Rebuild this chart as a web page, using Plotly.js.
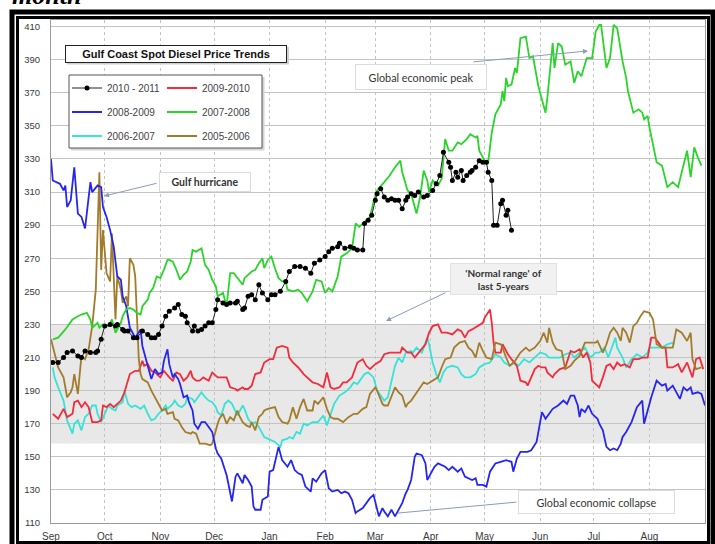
<!DOCTYPE html>
<html>
<head>
<meta charset="utf-8">
<script src="https://cdn.plot.ly/plotly-3.0.1.min.js"></script>
<style>html,body{margin:0;padding:0;background:#fff;}#chart{width:715px;height:544px;}</style>
</head>
<body>
<div id="chart"></div>
<script>
// x = days since Sep 1 (season year), y = price (cents/gal)
const months = ['Sep','Oct','Nov','Dec','Jan','Feb','Mar','Apr','May','Jun','Jul','Aug'];
const monthStartDays = [0,30,61,91,122,153,181,212,242,273,303,334];
const normalRange = [158, 230];

const s2010_2011 = [[1,207],[4,207],[7,210],[9,213],[12,214],[15,211],[17,210],[19,214],[22,213],[25,213],[26,214],[28,221],[30,229],[33,230],[36,229],[37,230],[40,227],[41,226],[43,226],[46,222],[48,222],[51,226],[54,224],[56,222],[58,222],[60,224],[62,229],[64,235],[66,238],[69,240],[71,242],[73,236],[75,235],[76,231],[79,226],[80,229],[82,226],[84,227],[86,229],[88,231],[90,231],[92,239],[93,245],[96,243],[98,242],[100,243],[103,243],[104,244],[107,239],[108,240],[110,247],[112,248],[114,245],[116,254],[118,249],[121,245],[123,248],[125,248],[128,250],[131,256],[133,262],[136,265],[139,265],[142,264],[145,261],[147,267],[150,269],[153,271],[155,274],[157,276],[160,277],[161,279],[164,276],[167,277],[169,276],[171,275],[174,275],[175,291],[177,293],[179,296],[181,305],[182,309],[184,312],[186,307],[188,305],[190,306],[192,305],[194,305],[196,300],[198,305],[199,307],[201,309],[203,308],[205,310],[208,307],[210,308],[213,311],[215,315],[217,320],[219,334],[222,328],[223,325],[224,317],[226,322],[227,319],[229,323],[230,317],[232,320],[234,322],[235,323],[237,325],[239,329],[241,328],[243,328],[244,322],[246,317],[247,290],[249,290],[251,303],[252,305],[254,296],[255,299],[257,287]];

const s2009_2010 = [[1,176],[4,173],[7,179],[9,174],[12,176],[13,183],[15,184],[17,180],[19,183],[21,180],[23,171],[26,171],[28,172],[29,181],[31,180],[33,182],[35,180],[37,182],[39,184],[41,189],[44,200],[47,202],[49,202],[51,208],[52,205],[54,206],[56,202],[58,201],[61,198],[63,202],[65,199],[66,198],[68,196],[70,201],[72,200],[74,196],[76,198],[78,202],[79,198],[81,196],[83,196],[85,198],[88,196],[90,201],[93,198],[96,198],[98,198],[100,192],[103,191],[104,190],[107,192],[108,191],[110,191],[112,193],[114,200],[117,201],[119,207],[122,209],[124,209],[126,216],[129,217],[132,216],[133,210],[135,207],[138,204],[141,200],[143,198],[146,195],[149,194],[152,192],[154,201],[156,192],[158,191],[161,192],[163,195],[165,195],[168,198],[171,207],[174,209],[176,205],[178,203],[181,206],[184,208],[186,212],[189,213],[192,213],[195,213],[196,216],[199,213],[201,213],[203,210],[206,214],[209,218],[211,225],[213,229],[216,230],[218,225],[221,225],[224,224],[227,227],[229,226],[231,222],[233,226],[235,227],[238,229],[241,231],[242,234],[245,239],[246,231],[247,219],[248,213],[251,213],[252,218],[253,216],[255,212],[257,209],[260,205],[262,196],[265,195],[266,193],[268,198],[270,203],[272,205],[274,204],[276,204],[277,201],[280,198],[281,200],[284,203],[287,204],[290,214],[292,213],[295,215],[297,210],[299,213],[301,207],[302,196],[305,193],[306,192],[308,198],[310,205],[312,206],[314,203],[316,207],[318,205],[320,206],[323,204],[325,209],[328,209],[330,210],[333,210],[335,222],[337,222],[339,219],[341,216],[343,216],[344,204],[347,204],[350,206],[352,201],[355,207],[357,201],[358,198],[360,209],[362,210],[364,203]];

const s2008_2009 = [[0,330],[1,317],[5,315],[7,311],[8,314],[9,301],[11,305],[13,325],[15,297],[17,295],[19,288],[22,316],[23,310],[25,313],[26,314],[28,313],[29,301],[31,295],[33,287],[35,277],[37,259],[39,257],[40,247],[42,241],[44,228],[47,222],[50,227],[51,217],[54,205],[56,197],[58,203],[60,200],[62,201],[63,208],[65,215],[66,206],[68,198],[69,200],[71,197],[72,194],[74,186],[76,187],[77,183],[79,178],[80,170],[82,167],[84,171],[86,171],[88,168],[90,165],[92,155],[93,152],[95,149],[97,142],[98,139],[101,123],[103,138],[104,140],[107,134],[108,139],[110,136],[112,132],[113,120],[114,118],[117,118],[118,124],[121,126],[122,141],[124,142],[127,156],[129,148],[132,144],[134,148],[136,142],[138,140],[140,139],[142,132],[145,129],[146,137],[148,135],[151,140],[153,142],[155,131],[157,129],[160,130],[162,128],[164,129],[166,128],[168,124],[170,116],[171,117],[174,119],[178,125],[180,127],[182,118],[183,114],[185,119],[186,117],[188,114],[190,118],[192,114],[194,118],[196,122],[198,128],[199,130],[201,136],[203,150],[204,152],[207,151],[209,146],[210,136],[211,138],[214,144],[216,146],[218,145],[220,144],[222,142],[224,144],[227,141],[229,143],[231,138],[233,137],[235,136],[237,137],[238,133],[241,133],[243,132],[245,141],[248,146],[251,147],[254,148],[257,147],[258,141],[260,149],[262,153],[266,153],[268,154],[271,159],[273,170],[274,177],[276,173],[278,176],[280,179],[283,181],[286,184],[288,182],[290,187],[292,187],[294,181],[295,174],[296,179],[298,177],[300,181],[302,176],[305,173],[306,170],[308,166],[310,156],[312,154],[314,155],[316,154],[318,158],[319,162],[321,165],[324,171],[327,180],[330,184],[331,170],[333,178],[335,186],[338,196],[341,193],[343,194],[344,190],[347,193],[349,189],[351,185],[353,192],[355,190],[357,192],[358,188],[361,189],[363,188],[365,181]];

const s2007_2008 = [[1,221],[4,222],[8,227],[12,233],[15,235],[17,236],[20,237],[22,233],[23,228],[26,231],[27,228],[29,230],[32,229],[34,233],[36,225],[39,231],[40,235],[42,239],[44,240],[46,239],[48,237],[50,236],[51,241],[54,245],[55,249],[57,252],[59,259],[61,258],[63,263],[65,269],[66,269],[68,268],[70,263],[72,257],[74,260],[76,262],[78,268],[79,275],[81,274],[84,276],[86,266],[88,263],[90,257],[92,253],[93,247],[96,249],[98,241],[100,261],[102,261],[104,258],[107,254],[108,258],[110,260],[112,262],[114,263],[116,267],[118,270],[119,264],[121,269],[123,271],[125,264],[127,258],[129,256],[131,256],[132,251],[135,250],[138,251],[140,249],[143,244],[146,250],[148,257],[151,256],[153,249],[155,252],[157,250],[160,259],[162,271],[165,273],[168,276],[170,291],[172,289],[175,292],[178,295],[180,304],[182,311],[186,316],[189,320],[192,325],[195,329],[196,322],[199,311],[201,309],[203,301],[204,297],[206,307],[208,323],[210,317],[211,310],[213,317],[216,314],[218,318],[220,342],[222,335],[224,335],[227,340],[229,339],[232,342],[234,345],[237,343],[238,344],[239,335],[242,329],[244,328],[246,346],[248,357],[251,363],[252,371],[253,365],[254,379],[255,374],[257,375],[259,385],[260,382],[262,403],[265,404],[267,391],[269,392],[272,374],[276,358],[277,367],[280,400],[281,385],[283,400],[285,398],[287,387],[290,389],[292,376],[294,383],[296,380],[299,391],[302,391],[304,407],[306,411],[307,411],[310,385],[312,391],[314,411],[316,409],[319,389],[321,379],[322,371],[325,358],[328,360],[330,358],[331,354],[333,356],[334,349],[336,339],[338,328],[341,326],[343,316],[344,313],[347,316],[348,315],[350,313],[352,322],[355,335],[357,319],[359,337],[361,331],[363,326]];

const s2006_2007 = [[1,204],[2,198],[4,192],[7,184],[9,172],[12,164],[13,170],[15,172],[17,166],[19,174],[21,176],[23,181],[25,181],[26,176],[28,171],[30,176],[32,181],[34,179],[36,178],[37,181],[40,183],[41,190],[43,182],[45,180],[47,181],[50,179],[52,181],[54,176],[56,172],[58,173],[60,176],[62,178],[64,181],[65,179],[68,182],[69,184],[71,181],[73,180],[75,182],[76,186],[79,185],[80,183],[82,186],[84,189],[86,186],[88,184],[90,183],[92,180],[93,177],[95,175],[97,182],[99,184],[101,182],[103,177],[104,175],[107,181],[108,179],[110,173],[112,170],[114,171],[116,168],[118,164],[119,162],[121,161],[125,159],[128,156],[129,160],[132,161],[133,162],[135,161],[137,165],[139,164],[141,170],[143,169],[146,171],[149,171],[152,175],[154,169],[156,175],[158,182],[161,187],[164,189],[167,192],[169,195],[171,194],[174,198],[175,200],[177,201],[180,198],[182,190],[185,186],[186,184],[188,186],[190,196],[192,205],[194,210],[196,207],[198,213],[201,214],[202,213],[204,216],[207,213],[209,219],[210,222],[211,218],[213,207],[215,200],[217,195],[219,201],[221,204],[224,205],[227,204],[229,200],[231,198],[234,198],[237,200],[239,204],[242,206],[245,207],[248,212],[251,210],[253,207],[256,205],[259,207],[261,205],[264,209],[267,207],[270,210],[273,213],[276,212],[278,210],[281,210],[284,210],[287,212],[290,213],[292,210],[295,213],[298,216],[301,210],[304,213],[306,213],[309,216],[311,210],[313,216],[315,222],[316,216],[319,210],[321,204],[324,209],[327,212],[330,210],[333,213],[334,216],[336,216],[338,216],[341,216],[344,218],[347,219],[348,218]];

const s2005_2006 = [[0,221],[4,204],[7,198],[9,186],[11,189],[12,192],[13,200],[15,188],[17,211],[19,209],[21,215],[23,229],[25,251],[27,322],[28,263],[29,287],[31,261],[33,256],[34,285],[36,233],[37,259],[39,251],[40,243],[42,247],[43,241],[44,270],[46,266],[47,259],[49,209],[50,200],[51,197],[54,195],[56,190],[58,186],[60,182],[62,178],[64,179],[65,176],[68,177],[69,173],[71,172],[73,168],[75,165],[78,164],[79,165],[81,164],[83,158],[86,158],[89,157],[90,158],[93,170],[94,173],[96,176],[98,170],[100,174],[102,172],[104,178],[105,175],[107,171],[109,169],[111,168],[112,171],[114,166],[116,174],[118,176],[119,178],[121,179],[125,180],[127,174],[129,171],[132,170],[133,172],[135,180],[137,173],[139,180],[141,185],[143,178],[146,178],[147,184],[149,182],[152,186],[154,179],[156,174],[158,173],[160,173],[163,171],[166,174],[169,176],[171,176],[174,179],[176,180],[178,188],[181,192],[182,190],[185,182],[186,181],[188,181],[190,187],[192,192],[194,189],[196,187],[198,180],[199,182],[201,184],[203,187],[205,190],[208,195],[210,194],[213,196],[216,198],[218,204],[220,209],[223,210],[225,216],[228,219],[231,220],[233,216],[235,214],[237,210],[239,219],[241,214],[243,210],[246,209],[248,219],[251,218],[252,216],[254,210],[256,205],[259,208],[262,213],[265,216],[267,214],[270,216],[273,220],[275,225],[277,219],[278,228],[280,219],[282,215],[285,214],[287,203],[290,205],[292,208],[295,211],[298,219],[301,219],[304,219],[305,220],[308,213],[310,218],[312,225],[314,228],[316,225],[318,220],[319,228],[321,225],[323,219],[325,229],[327,231],[329,235],[331,238],[334,237],[336,233],[338,218],[341,216],[344,216],[347,216],[349,227],[352,225],[355,220],[357,225],[358,209],[360,203],[363,204]];

const xs = a => a.map(p => p[0]);
const ys = a => a.map(p => p[1]);

const LW = 1.8;
const data = [
  {type:'scatter', mode:'lines', name:'2006-2007', x:xs(s2006_2007), y:ys(s2006_2007), line:{color:'#35e4d6', width:LW}, legend:'legend', legendgroup:'g3', legendrank:3},
  {type:'scatter', mode:'lines', name:'2009-2010', x:xs(s2009_2010), y:ys(s2009_2010), line:{color:'#f52a3a', width:LW}, legend:'legend2', legendgroup:'g4', legendrank:4},
  {type:'scatter', mode:'lines', name:'2005-2006', x:xs(s2005_2006), y:ys(s2005_2006), line:{color:'#a27c2a', width:LW}, legend:'legend2', legendgroup:'g6', legendrank:6},
  {type:'scatter', mode:'lines', name:'2008-2009', x:xs(s2008_2009), y:ys(s2008_2009), line:{color:'#2626f0', width:LW}, legend:'legend', legendgroup:'g2', legendrank:2},
  {type:'scatter', mode:'lines', name:'2007-2008', x:xs(s2007_2008), y:ys(s2007_2008), line:{color:'#2bd42b', width:LW}, legend:'legend2', legendgroup:'g5', legendrank:5},
  {type:'scatter', mode:'lines+markers', name:'2010 - 2011', x:xs(s2010_2011), y:ys(s2010_2011), line:{color:'#222', width:1}, marker:{color:'#000', size:5, symbol:'circle'}, legend:'legend', legendgroup:'g1', legendrank:1}
];

const L = 51, R = 705, T = 20, B = 523;
const px = v => (v - L) / (R - L);
const py = v => (B - v) / (B - T);

const tickFont = {family:'Liberation Sans, Arial, sans-serif', size:10, color:'#3a3a3a'};
const noteFont = {family:'Lato, Open Sans, sans-serif', size:10.8, color:'#333'};
const arrowColor = '#8a9bbb';

const legendCommon = {xanchor:'left', yanchor:'top', bgcolor:'rgba(0,0,0,0)', borderwidth:0,
  font:{family:'Liberation Sans, Arial, sans-serif', size:10, color:'#444'}, traceorder:'grouped', tracegroupgap:5};

const layout = {
  width:715, height:544,
  margin:{l:L, r:715-R, t:T, b:544-B, pad:0},
  paper_bgcolor:'#fff', plot_bgcolor:'#fff',
  showlegend:true,
  legend:Object.assign({x:px(67), y:py(73.5)}, legendCommon),
  legend2:Object.assign({x:px(162), y:py(73.5)}, legendCommon),
  xaxis:{range:[0,365], tickmode:'array', tickvals:monthStartDays, ticktext:months,
    showgrid:true, gridcolor:'#c4c4c4', griddash:'dot', gridwidth:1,
    showline:true, linecolor:'#9a9a9a', mirror:true, zeroline:false,
    ticks:'outside', ticklen:4, tickcolor:'rgba(0,0,0,0)', tickfont:tickFont, fixedrange:true},
  yaxis:{range:[110,414], tick0:110, dtick:20,
    showgrid:true, gridcolor:'#c4c4c4', gridwidth:1,
    showline:true, linecolor:'#9a9a9a', mirror:true, zeroline:false,
    ticks:'outside', ticklen:8, tickcolor:'rgba(0,0,0,0)', tickfont:Object.assign({}, tickFont, {size:9.5}), fixedrange:true},
  shapes:[
    {type:'rect', xref:'paper', yref:'y', x0:0, x1:1, y0:normalRange[0], y1:normalRange[1], fillcolor:'rgba(150,150,150,0.22)', line:{width:0}, layer:'below'},
    {type:'rect', xref:'paper', yref:'paper', x0:px(71), x1:px(264.5), y0:py(150.5), y1:py(77), fillcolor:'#d4d4d4', line:{width:0}, layer:'above'},
    {type:'rect', xref:'paper', yref:'paper', x0:px(69), x1:px(262), y0:py(148), y1:py(75), fillcolor:'#fff', line:{color:'#555', width:1}, layer:'above'},
    {type:'rect', xref:'paper', yref:'paper', x0:px(67), x1:px(289), y0:py(64.5), y1:py(47), fillcolor:'#cfcfcf', line:{width:0}, layer:'above'},
    {type:'rect', xref:'paper', yref:'paper', x0:px(12), x1:px(713), y0:py(548), y1:py(12), line:{color:'#000', width:5}, fillcolor:'rgba(0,0,0,0)', layer:'above'},
    {type:'rect', xref:'paper', yref:'paper', x0:px(17.5), x1:px(708.5), y0:py(542.5), y1:py(17.5), line:{color:'#000', width:3}, fillcolor:'rgba(0,0,0,0)', layer:'above'}
  ],
  annotations:[
    {xref:'paper', yref:'paper', x:px(10), y:py(12), xanchor:'left', yanchor:'bottom', showarrow:false,
      text:'month', font:{family:'Liberation Serif, Times New Roman, serif', size:26, color:'#000', style:'italic', weight:'bold'}},
    {xref:'paper', yref:'paper', x:px(175.5), y:py(53.5), xanchor:'center', yanchor:'middle', showarrow:false,
      text:'<b>Gulf Coast Spot Diesel Price Trends</b>', font:{family:'Liberation Sans, Arial, sans-serif', size:11, color:'#111'},
      bgcolor:'#fff', bordercolor:'#222', borderwidth:1, borderpad:0, width:220, height:16},
    {xref:'paper', yref:'paper', x:px(421), y:py(77), xanchor:'center', yanchor:'middle', showarrow:false,
      text:'Global economic peak', font:noteFont, bgcolor:'#fff', bordercolor:'#dcdcdc', borderwidth:1, borderpad:0, width:130, height:24},
    {xref:'paper', yref:'paper', x:px(204.5), y:py(182.5), xanchor:'center', yanchor:'middle', showarrow:false,
      text:'<b>Gulf hurricane</b>', font:Object.assign({}, noteFont, {size:10.5}), bgcolor:'#fff', bordercolor:'#dcdcdc', borderwidth:1, borderpad:0, width:90, height:18},
    {xref:'paper', yref:'paper', x:px(503.5), y:py(279), xanchor:'center', yanchor:'middle', showarrow:false,
      text:"<b>'Normal range' of<br>last 5-years</b>", font:Object.assign({}, noteFont, {size:10}), bgcolor:'#f1f1f1', bordercolor:'#e2e2e2', borderwidth:1, borderpad:0, width:105, height:30},
    {xref:'paper', yref:'paper', x:px(596.5), y:py(502), xanchor:'center', yanchor:'middle', showarrow:false,
      text:'Global economic collapse', font:noteFont, bgcolor:'#fff', bordercolor:'#dcdcdc', borderwidth:1, borderpad:0, width:155, height:22},
    {xref:'x', yref:'y', axref:'x', ayref:'y', x:299.7, y:395.3, ax:234.9, ay:388.6, text:'', showarrow:true, arrowhead:2, arrowsize:1, arrowwidth:1, arrowcolor:arrowColor, standoff:0, startstandoff:0},
    {xref:'x', yref:'y', axref:'x', ayref:'y', x:29.6, y:307.6, ax:59.7, ay:315.5, text:'', showarrow:true, arrowhead:2, arrowsize:1, arrowwidth:1, arrowcolor:arrowColor, standoff:0, startstandoff:0},
    {xref:'x', yref:'y', axref:'x', ayref:'y', x:187, y:232.1, ax:221, ay:249.6, text:'', showarrow:true, arrowhead:2, arrowsize:1, arrowwidth:1, arrowcolor:arrowColor, standoff:0, startstandoff:0},
    {xref:'x', yref:'y', axref:'x', ayref:'y', x:193.6, y:116, ax:260.6, ay:122.7, text:'', showarrow:true, arrowhead:0, arrowsize:1, arrowwidth:1, arrowcolor:arrowColor, standoff:0, startstandoff:0}
  ]
};

Plotly.newPlot('chart', data, layout, {displayModeBar:false, staticPlot:true});
</script>
</body>
</html>
